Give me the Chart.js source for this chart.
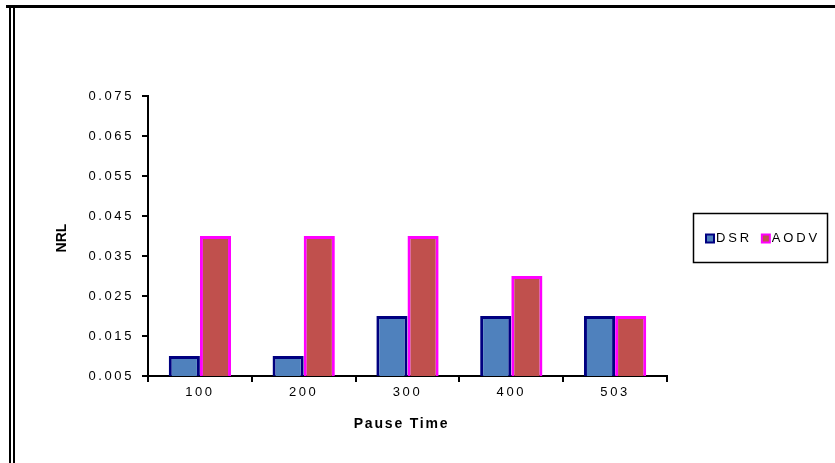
<!DOCTYPE html>
<html>
<head>
<meta charset="utf-8">
<script src="https://cdn.jsdelivr.net/npm/chart.js@4/dist/chart.umd.min.js"></script>
<style>
  html, body { margin: 0; padding: 0; background: #fff; }
  #wrap { width: 835px; height: 463px; position: relative; }
</style>
</head>
<body>
<div id="wrap"><canvas id="c" width="835" height="463"></canvas></div>
<script>
// Pause time categories and NRL values per routing protocol
const pauseTimes = ['100', '200', '300', '400', '503'];
const dsrValues  = [0.01, 0.01, 0.02, 0.02, 0.02];
const aodvValues = [0.04, 0.04, 0.04, 0.03, 0.02];
const seriesNames = ['DSR', 'AODV'];
const yTickValues = [0.005, 0.015, 0.025, 0.035, 0.045, 0.055, 0.065, 0.075];
const yTickLabels = ['0.005', '0.015', '0.025', '0.035', '0.045', '0.055', '0.065', '0.075'];

const FONT = "'Liberation Sans', Arial, sans-serif";

// Window frame, axis titles and boxed legend
const decorations = {
  id: 'decorations',
  beforeDraw(chart) {
    const ctx = chart.ctx;
    ctx.save();
    ctx.fillStyle = '#fff';
    ctx.fillRect(0, 0, chart.width, chart.height);
    ctx.fillStyle = '#000';
    ctx.fillRect(6, 5, chart.width - 6, 3);
    ctx.fillRect(9, 7, 2, chart.height - 7);
    ctx.fillRect(13, 7, 2, chart.height - 7);
    ctx.restore();
    ctx.letterSpacing = '2.6px';
  },
  afterDraw(chart) {
    const ctx = chart.ctx;
    const area = chart.chartArea;
    ctx.save();
    ctx.fillStyle = '#000';
    // x axis title
    ctx.letterSpacing = '1.8px';
    ctx.font = 'bold 14px ' + FONT;
    ctx.textAlign = 'center';
    ctx.textBaseline = 'middle';
    ctx.fillText('Pause Time', (area.left + area.right) / 2 - 6, area.bottom + 48);
    // y axis title
    ctx.letterSpacing = '0px';
    ctx.save();
    ctx.translate(62, (area.top + area.bottom) / 2 + 2);
    ctx.rotate(-Math.PI / 2);
    ctx.fillText('NRL', 0, 0);
    ctx.restore();
    // legend box
    const lx = area.right + 26, ly = 213, lw = 134, lh = 49;
    ctx.lineWidth = 1.5;
    ctx.strokeStyle = '#000';
    ctx.strokeRect(lx + 0.5, ly + 0.5, lw, lh);
    ctx.font = '13px ' + FONT;
    ctx.letterSpacing = '2.8px';
    ctx.textAlign = 'left';
    ctx.textBaseline = 'middle';
    const cy = ly + lh / 2 + 1;
    let x = lx + 12;
    chart.data.datasets.forEach((ds) => {
      ctx.fillStyle = ds.borderColor;
      ctx.fillRect(x, cy - 5, 10, 10);
      ctx.fillStyle = ds.backgroundColor;
      ctx.fillRect(x + 2, cy - 3, 6, 6);
      ctx.fillStyle = '#000';
      ctx.fillText(ds.label, x + 11, cy);
      x += 11 + ctx.measureText(ds.label).width + 9;
    });
    ctx.restore();
  }
};

new Chart(document.getElementById('c'), {
  type: 'bar',
  data: {
    labels: pauseTimes,
    datasets: [
      { label: seriesNames[0], data: dsrValues, backgroundColor: '#4F81BD', borderColor: '#000080', borderWidth: 3 },
      { label: seriesNames[1], data: aodvValues, backgroundColor: '#C0504D', borderColor: '#FF00FF', borderWidth: 3 }
    ]
  },
  options: {
    responsive: false,
    animation: false,
    devicePixelRatio: 1,
    layout: { padding: { top: 96, right: 168, bottom: 0, left: 0 } },
    datasets: { bar: { categoryPercentage: 0.6, barPercentage: 1.0 } },
    plugins: { legend: { display: false }, tooltip: { enabled: false } },
    scales: {
      x: {
        offset: true,
        grid: { display: true, drawOnChartArea: false, offset: true, color: '#000', lineWidth: 2, tickLength: 6 },
        border: { display: true, color: '#000', width: 2 },
        ticks: { color: '#000', font: { family: FONT, size: 13 }, padding: 3, maxRotation: 0 },
        afterFit(scale) { scale.height = 87; }
      },
      y: {
        min: 0.005,
        max: 0.075,
        afterBuildTicks(scale) { scale.ticks = yTickValues.map(v => ({ value: v })); },
        grid: { display: true, drawOnChartArea: false, color: '#000', lineWidth: 2, tickLength: 6 },
        border: { display: true, color: '#000', width: 2 },
        ticks: {
          color: '#000', font: { family: FONT, size: 13 }, padding: 8,
          callback: (v, i) => yTickLabels[i]
        },
        afterFit(scale) { scale.width = 148; }
      }
    }
  },
  plugins: [decorations]
});
</script>
</body>
</html>
